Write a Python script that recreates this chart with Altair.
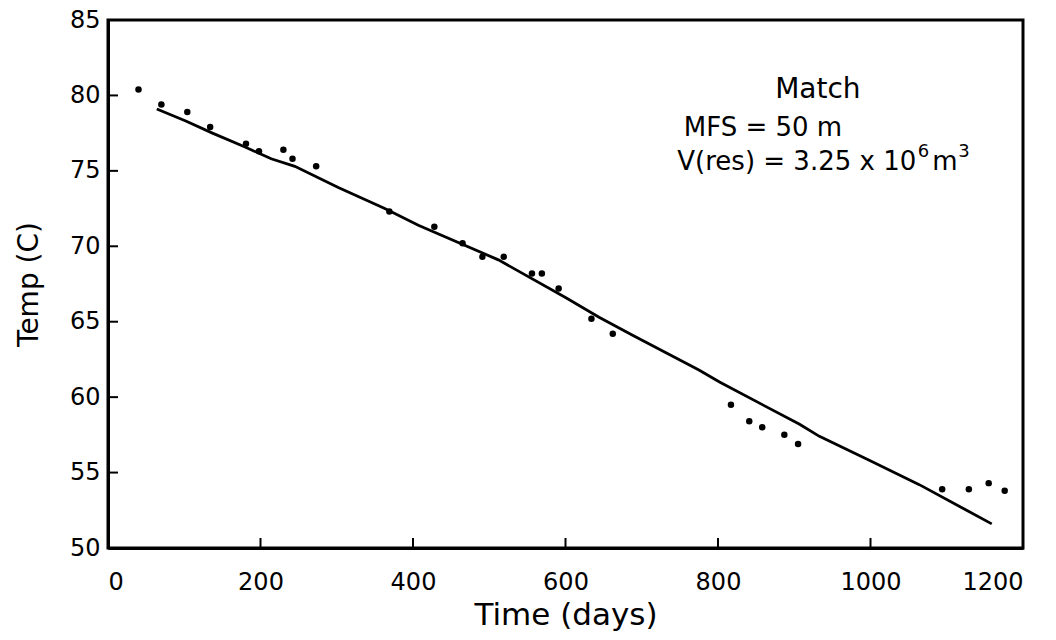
import altair as alt
import pandas as pd

# Observed temperatures (dots)
obs_days = [40, 70, 104, 134, 181, 198, 230, 242, 273, 369, 428, 465, 491, 519,
            556, 569, 591, 634, 662, 817, 841, 858, 887, 905, 1094, 1129, 1155, 1176]
obs_temp = [80.4, 79.4, 78.9, 77.9, 76.8, 76.3, 76.4, 75.8, 75.3, 72.3, 71.3, 70.2,
            69.3, 69.3, 68.2, 68.2, 67.2, 65.2, 64.2, 59.5, 58.4, 58.0, 57.5, 56.9,
            53.9, 53.9, 54.3, 53.8]

# Model match (line)
fit_days = [64, 102, 137, 179, 214, 245, 302, 363, 407, 512, 600, 644, 688, 775,
            802, 907, 933, 999, 1064, 1126, 1159]
fit_temp = [79.1, 78.3, 77.5, 76.6, 75.8, 75.3, 73.9, 72.5, 71.4, 69.1, 66.6, 65.3,
            64.1, 61.8, 61.0, 58.2, 57.4, 55.8, 54.2, 52.5, 51.6]

x_ticks = [0, 200, 400, 600, 800, 1000, 1200]
y_ticks = [50, 55, 60, 65, 70, 75, 80, 85]
x_inner_ticks = [200, 400, 600, 800, 1000]
y_inner_ticks = [55, 60, 65, 70, 75, 80]

# Annotation pieces (text, anchor day, baseline temp, size, align)
ann_text = ["Match", "MFS = 50 m", "V(res) = 3.25 x 10", "6", "m", "3"]
ann_day = [931, 859, 1060, 1062, 1081, 1115]
ann_temp = [79.85, 77.3, 75.05, 75.95, 75.05, 75.95]
ann_size = [28, 26, 26, 18, 26, 18]
ann_align = ["center", "center", "right", "left", "left", "left"]

W, H = 915, 528
FONT = "DejaVu Sans"

xs = alt.Scale(domain=[0, 1200], nice=False)
ys = alt.Scale(domain=[50, 85], nice=False)

obs = pd.DataFrame({"day": obs_days, "temp": obs_temp})
fit = pd.DataFrame({"day": fit_days, "temp": fit_temp})
xt = pd.DataFrame({"day": x_inner_ticks})
yt = pd.DataFrame({"temp": y_inner_ticks})

xaxis = alt.Axis(values=x_ticks, title="Time (days)", grid=False, ticks=False,
                 labelPadding=22, titlePadding=6, format="d", titleFontSize=31)
yaxis = alt.Axis(values=y_ticks, title="Temp (C)", grid=False, ticks=False,
                 labelPadding=8, titlePadding=26, format="d", titleFontSize=28)

line = alt.Chart(fit).mark_line(color="black", strokeWidth=2.8).encode(
    x=alt.X("day:Q", scale=xs, axis=xaxis),
    y=alt.Y("temp:Q", scale=ys, axis=yaxis),
)

dots = alt.Chart(obs).mark_circle(color="black", opacity=1, size=42).encode(
    x=alt.X("day:Q", scale=xs),
    y=alt.Y("temp:Q", scale=ys),
)

xtick = alt.Chart(xt).mark_rule(color="black", strokeWidth=2).encode(
    x=alt.X("day:Q", scale=xs),
    y=alt.value(H),
    y2=alt.value(H - 10),
)

ytick = alt.Chart(yt).mark_rule(color="black", strokeWidth=2).encode(
    y=alt.Y("temp:Q", scale=ys),
    x=alt.value(0),
    x2=alt.value(10),
)

text_layers = []
for t, d, tp, s, a in zip(ann_text, ann_day, ann_temp, ann_size, ann_align):
    df = pd.DataFrame({"day": [d], "temp": [tp], "text": [t]})
    text_layers.append(
        alt.Chart(df).mark_text(font=FONT, color="black", align=a,
                                baseline="alphabetic", fontSize=s).encode(
            x=alt.X("day:Q", scale=xs),
            y=alt.Y("temp:Q", scale=ys),
            text="text:N",
        )
    )

chart = alt.layer(line, dots, xtick, ytick, *text_layers).properties(
    width=W, height=H,
    autosize=alt.AutoSizeParams(type="none"),
    padding={"left": 108, "top": 20, "right": 33, "bottom": 92},
    background="white",
).configure_view(
    stroke="black", strokeWidth=3
).configure_axis(
    domainColor="black", domainWidth=3,
    labelFont=FONT, labelFontSize=24, labelColor="black",
    titleFont=FONT, titleFontWeight="normal", titleColor="black",
)

chart.save("out.html", embed_options={"renderer": "svg", "actions": False})
